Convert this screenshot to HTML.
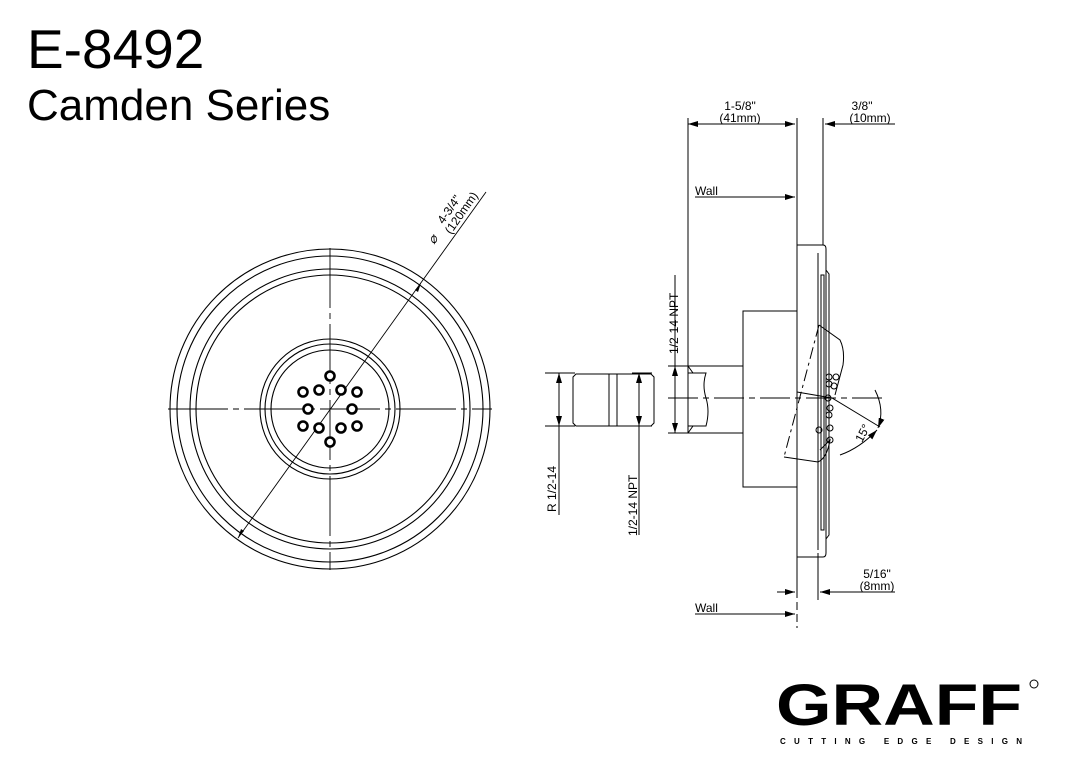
<!DOCTYPE html>
<html><head><meta charset="utf-8"><style>
html,body{margin:0;padding:0;background:#fff;}
svg{display:block;}
text{font-family:"Liberation Sans",Arial,sans-serif;fill:#000;}
</style></head><body>
<svg width="1067" height="769" viewBox="0 0 1067 769" xmlns="http://www.w3.org/2000/svg">
<defs>
<marker id="a" viewBox="0 0 10 6" refX="10" refY="3" markerWidth="10" markerHeight="6" orient="auto-start-reverse" markerUnits="userSpaceOnUse"><path d="M0,0L10,3L0,6z" fill="#000"/></marker>
</defs>
<text x="27" y="68" font-size="55">E-8492</text>
<text x="27" y="120" font-size="44">Camden Series</text>

<!-- front view -->
<g fill="none" stroke="#000" stroke-width="1.1">
<circle cx="330" cy="409" r="160"/>
<circle cx="330" cy="409" r="153"/>
<circle cx="330" cy="409" r="140"/>
<circle cx="330" cy="409" r="134"/>
<circle cx="330" cy="409" r="70"/>
<circle cx="330" cy="409" r="65"/>
<circle cx="330" cy="409" r="59"/>
<path d="M168,409H492M330,248V570" stroke-width="0.9" stroke-dasharray="60,5,6,5"/>
<line x1="238" y1="538" x2="486" y2="192" stroke-width="0.9"/>
</g>
<path d="M238,538l3,-9l3,2z M421,283l-3,9l-3,-2z" fill="#000"/>
<g fill="#fff" stroke="#000" stroke-width="2.6">
<circle cx="330" cy="376" r="4.5"/>
<circle cx="330" cy="442" r="4.5"/>
<circle cx="319" cy="390" r="4.5"/><circle cx="341" cy="390" r="4.5"/>
<circle cx="303" cy="392" r="4.5"/><circle cx="357" cy="392" r="4.5"/>
<circle cx="308" cy="409" r="4.5"/><circle cx="352" cy="409" r="4.5"/>
<circle cx="319" cy="428" r="4.5"/><circle cx="341" cy="428" r="4.5"/>
<circle cx="303" cy="426" r="4.5"/><circle cx="357" cy="426" r="4.5"/>
</g>
<g transform="translate(434,245) rotate(-55)">
<text x="0" y="0" font-size="13" font-style="italic">⌀</text>
<text x="22" y="-4" font-size="12">4-3/4"</text>
<text x="18" y="8" font-size="12">(120mm)</text>
</g>

<!-- side view -->
<g fill="none" stroke="#000" stroke-width="1">
<line x1="688" y1="118" x2="688" y2="433"/>
<line x1="797" y1="118" x2="797" y2="590"/>
<line x1="797" y1="590" x2="797" y2="628" stroke-dasharray="8,4"/>
<line x1="823" y1="118" x2="823" y2="245"/>
<line x1="818" y1="553" x2="818" y2="600"/>
<line x1="688" y1="124" x2="795" y2="124" marker-start="url(#a)" marker-end="url(#a)"/>
<line x1="895" y1="124" x2="825" y2="124" marker-end="url(#a)"/>
<line x1="695" y1="197" x2="795" y2="197" marker-end="url(#a)"/>
<line x1="777" y1="592" x2="795" y2="592" marker-end="url(#a)"/>
<line x1="895" y1="592" x2="820" y2="592" marker-end="url(#a)"/>
<line x1="695" y1="614" x2="795" y2="614" marker-end="url(#a)"/>
<path d="M797,245H823q3,0 3,4V553q0,4 -3,4H797"/>
<path d="M818,253V550"/>
<path d="M826,270l3,4V535l-3,4"/>
<path d="M821,275V530h3V275z"/>
<rect x="743" y="311" width="54" height="176"/>
<path d="M688,366H743M688,433H743"/>
<path d="M688,373h18q-4,12 0,25t0,28h-18"/>
<path d="M688,366l5,7M688,433l5,-7"/>
<path d="M573,377l3,-3H609V426H576l-3,-3z"/>
<path d="M617,374H651l3,3V423l-3,3H617z"/>
<path d="M609,374h8v52h-8z"/>
<line x1="559" y1="373" x2="559" y2="426" marker-start="url(#a)" marker-end="url(#a)"/>
<line x1="639" y1="373" x2="639" y2="426" marker-start="url(#a)" marker-end="url(#a)"/>
<line x1="675" y1="366" x2="675" y2="433" marker-start="url(#a)" marker-end="url(#a)"/>
<path d="M545,373H575M545,426H575M632,373H652M632,426H652M668,366H690M668,433H690"/>
<line x1="559" y1="426" x2="559" y2="515"/>
<line x1="639" y1="426" x2="639" y2="535"/>
<line x1="675" y1="366" x2="675" y2="275"/>
<path d="M819,325L840,340Q845,350 843,365L835,395" />
<path d="M820,450L830,440Q827,458 818,462L784,457" />
<path d="M819,325L784,457" stroke-dasharray="12,4,3,4"/>
<path d="M797,392L832,398L880,427"/>
<path d="M875,390Q885,410 878,428" marker-end="url(#a)"/>
<path d="M840,455Q860,448 877,430" marker-end="url(#a)"/>
<line x1="668" y1="398" x2="885" y2="398" stroke-dasharray="30,5,6,5"/>
<circle cx="829" cy="377" r="3"/><circle cx="836" cy="377" r="3"/>
<circle cx="829" cy="384" r="3"/><circle cx="834" cy="386" r="3"/>
<circle cx="830" cy="408" r="3"/><circle cx="829" cy="415" r="3"/>
<circle cx="830" cy="428" r="3"/><circle cx="828" cy="398" r="3"/>
<circle cx="819" cy="430" r="3"/><circle cx="830" cy="440" r="3"/>
</g>
<text x="740" y="110" font-size="12" text-anchor="middle">1-5/8"</text>
<text x="740" y="122" font-size="12" text-anchor="middle">(41mm)</text>
<text x="862" y="110" font-size="12" text-anchor="middle">3/8"</text>
<text x="870" y="122" font-size="12" text-anchor="middle">(10mm)</text>
<text x="695" y="195" font-size="12">Wall</text>
<text x="695" y="612" font-size="12">Wall</text>
<text x="877" y="578" font-size="12" text-anchor="middle">5/16"</text>
<text x="877" y="590" font-size="12" text-anchor="middle">(8mm)</text>
<text transform="translate(678,354) rotate(-90)" font-size="12">1/2-14 NPT</text>
<text transform="translate(556,512) rotate(-90)" font-size="12">R 1/2-14</text>
<text transform="translate(637,536) rotate(-90)" font-size="12">1/2-14 NPT</text>
<text transform="translate(862,443) rotate(-62)" font-size="12">15°</text>

<text x="776" y="725" font-size="58" font-weight="bold" textLength="246" lengthAdjust="spacingAndGlyphs">GRAFF</text>
<circle cx="1034" cy="684" r="4" fill="none" stroke="#000" stroke-width="1"/>
<text x="780" y="744" font-size="8" font-weight="bold" textLength="242" lengthAdjust="spacing">CUTTING EDGE DESIGN</text>
</svg>
</body></html>
